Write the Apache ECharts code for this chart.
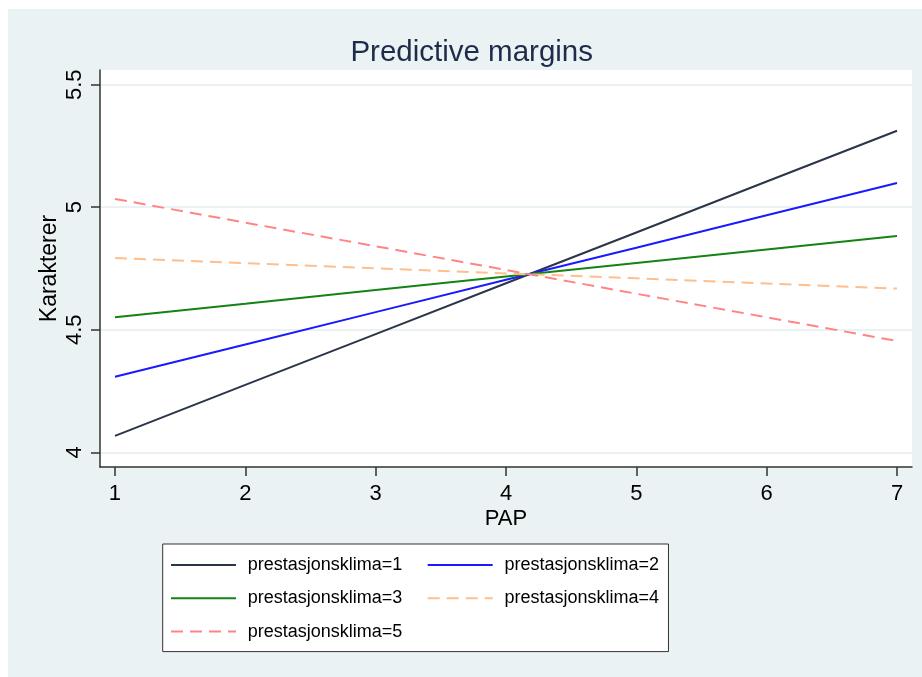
<!DOCTYPE html>
<html><head><meta charset="utf-8">
<script src="https://cdn.jsdelivr.net/npm/echarts@6/dist/echarts.min.js"></script>
<style>html,body{margin:0;padding:0;background:#fff;}#c{position:absolute;left:8px;top:9px;width:914px;height:668px;}</style>
</head><body><div id="c"></div>
<script>
const titleText = 'Predictive margins';
const xTitle = 'PAP';
const yTitle = 'Karakterer';
const pap = [1, 2, 3, 4, 5, 6, 7];
const xTicks = [1, 2, 3, 4, 5, 6, 7];
const yTicks = [4, 4.5, 5, 5.5];
const seriesNames = ['prestasjonsklima=1', 'prestasjonsklima=2', 'prestasjonsklima=3', 'prestasjonsklima=4', 'prestasjonsklima=5'];
const klima1 = [4.067, 4.275, 4.482, 4.690, 4.897, 5.105, 5.312];
const klima2 = [4.308, 4.440, 4.572, 4.704, 4.835, 4.967, 5.099];
const klima3 = [4.551, 4.606, 4.662, 4.717, 4.772, 4.828, 4.883];
const klima4 = [4.793, 4.772, 4.751, 4.730, 4.710, 4.689, 4.668];
const klima5 = [5.034, 4.937, 4.841, 4.744, 4.647, 4.551, 4.454];

const values = [klima1, klima2, klima3, klima4, klima5];
const colors = ['#2b3549', '#1a1aff', '#138413', '#ffbe8a', '#ff8585'];
const dashed = [false, false, false, true, true];
const FONT = '"Liberation Sans", Arial, sans-serif';

const chart = echarts.init(document.getElementById('c'), null, {renderer: 'canvas'});
const series = values.map((v, i) => ({
  name: seriesNames[i],
  type: 'line',
  symbol: 'none',
  data: pap.map((x, j) => [x, v[j]]),
  lineStyle: {color: colors[i], width: 2, type: dashed[i] ? [12, 7] : 'solid'},
  itemStyle: {color: colors[i]},
  emphasis: {disabled: true},
  animation: false
}));

chart.setOption({
  backgroundColor: '#eaf2f3',
  animation: false,
  title: {
    text: titleText, left: 458.7, top: 24, textAlign: 'center',
    textStyle: {fontFamily: FONT, fontSize: 29.5, fontWeight: 'normal', color: '#1e2b4a'}
  },
  grid: {left: 92, top: 61, right: 10, bottom: 210, show: true, backgroundColor: '#ffffff', borderWidth: 0},
  xAxis: {
    type: 'value', min: 0.885, max: 7.115,
    name: xTitle, nameLocation: 'middle', nameGap: 41, nameMoveOverlap: false,
    nameTextStyle: {fontFamily: FONT, fontSize: 22, color: '#000'},
    axisLine: {show: true, lineStyle: {color: '#333', width: 1.5}},
    axisTick: {show: true, length: 9, lineStyle: {color: '#333', width: 1.5}, customValues: xTicks},
    axisLabel: {fontFamily: FONT, fontSize: 22, color: '#000', margin: 16, customValues: xTicks},
    splitLine: {show: false}
  },
  yAxis: {
    type: 'value', min: 3.94, max: 5.56,
    name: yTitle, nameLocation: 'middle', nameGap: 39, nameRotate: 90, nameMoveOverlap: false,
    nameTextStyle: {fontFamily: FONT, fontSize: 23, color: '#000'},
    axisLine: {show: true, lineStyle: {color: '#333', width: 1.5}},
    axisTick: {show: true, length: 9, lineStyle: {color: '#333', width: 1.5}, customValues: yTicks},
    axisLabel: {fontFamily: FONT, fontSize: 22, color: '#000', margin: 14, rotate: 90, customValues: yTicks},
    splitLine: {show: true, lineStyle: {color: '#eaf2f3', width: 2}}
  },
  legend: {
    left: 154.7, top: 535, width: 560,
    orient: 'horizontal',
    backgroundColor: '#ffffff', borderColor: '#333', borderWidth: 1,
    padding: [11, 9.5, 10, 7.3],
    itemWidth: 65, itemHeight: 14, itemGap: 13.3,
    itemStyle: {opacity: 0},
    textStyle: {fontFamily: FONT, fontSize: 18, color: '#000', lineHeight: 20, padding: [0, 0, 0, 6.7]},
    data: seriesNames.map((n, i) => i % 2 === 0 && i < 4
      ? {name: n, textStyle: {width: 165.7}}
      : {name: n}),
    selectedMode: false
  },
  series: series
});
</script></body></html>
